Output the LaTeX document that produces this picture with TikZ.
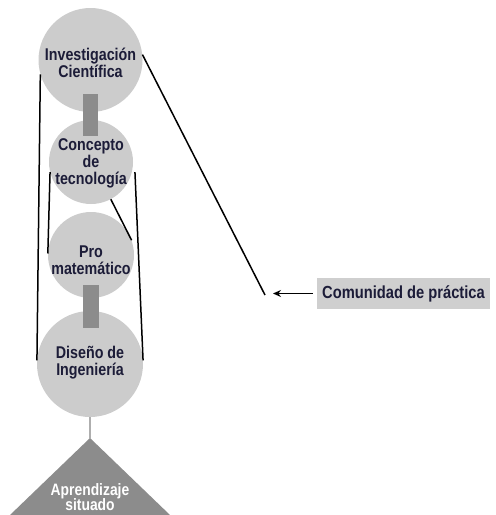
\documentclass[tikz,border=0pt]{standalone}
\usepackage{fontspec}
\setmainfont{Liberation Sans}[FakeStretch=0.84]
\usetikzlibrary{arrows.meta}
\definecolor{circfill}{HTML}{CCCCCC}
\definecolor{barfill}{HTML}{8C8C8C}
\definecolor{boxfill}{HTML}{CFCFCF}
\definecolor{txt}{HTML}{1C1C38}
\tikzset{
  circ/.style={circle, fill=circfill, inner sep=0pt},
  ctext/.style={align=center, text=txt, inner sep=0pt,
    font=\bfseries\fontsize{17}{17}\selectfont},
  bar/.style={fill=barfill, draw=none, inner sep=0pt},
  conn/.style={line width=1.5pt, black},
  arr/.style={line width=1.5pt, -{Stealth[length=8pt,width=7pt]}},
  labbox/.style={fill=boxfill, text=txt, inner sep=0pt, minimum width=173pt, minimum height=31pt,
    font=\bfseries\fontsize{17.5}{17}\selectfont},
  tri/.style={fill=barfill, draw=none},
  tritext/.style={text=white, align=center, inner sep=0pt, font=\bfseries\fontsize{16.5}{15.5}\selectfont}
}
\begin{document}
\begin{tikzpicture}[x=1pt,y=-1pt]
\useasboundingbox (0,0) rectangle (496,515);
% circles
\node[circ, minimum size=104pt] (c1) at (90.5,60) {};
\node[circ, minimum size=84pt] (c2) at (91,162) {};
\node[circ, minimum size=86pt] (c3) at (91,255) {};
\node[circ, minimum size=106pt] (c4) at (90,364) {};
% bars
\node[bar, minimum width=15pt, minimum height=42pt] (b1) at (90.5,115) {};
\node[bar, minimum width=16pt, minimum height=43pt] (b2) at (91,306.5) {};
% texts
\node[ctext] (t1) at (90.5,63) {Investigación\\Científica};
\node[ctext] (t2) at (91,163) {Concepto\\de\\tecnología};
\node[ctext] (t3) at (91,260) {Pro\\matemático};
\node[ctext] (t4) at (90,363) {Diseño de\\Ingeniería};
% connectors
\draw[conn] (c1.196) -- (c4.176);
\draw[conn] (c2.194) -- (c3.178);
\draw[conn] ([xshift=3pt]c2.-14) -- (c4.4);
\draw[conn] (c2.-62) -- (c3.20);
\coordinate (tip) at (265,295);
\draw[conn] (c1.6) -- (tip);
% label box and arrow
\node[labbox] (lab) at (403.5,293.5) {Comunidad de práctica};
\coordinate (ahead) at (273,293.5);
\draw[arr] ([xshift=-4pt]lab.west) -- (ahead);
% triangle
\coordinate (apex) at (90,438);
\draw[line width=1.5pt, barfill!70] (c4.south) -- (apex);
\fill[tri] (apex) -- (10,515) -- (170,515) -- cycle;
\node[tritext] (tt) at (90,497) {Aprendizaje\\situado};
\end{tikzpicture}
\end{document}
